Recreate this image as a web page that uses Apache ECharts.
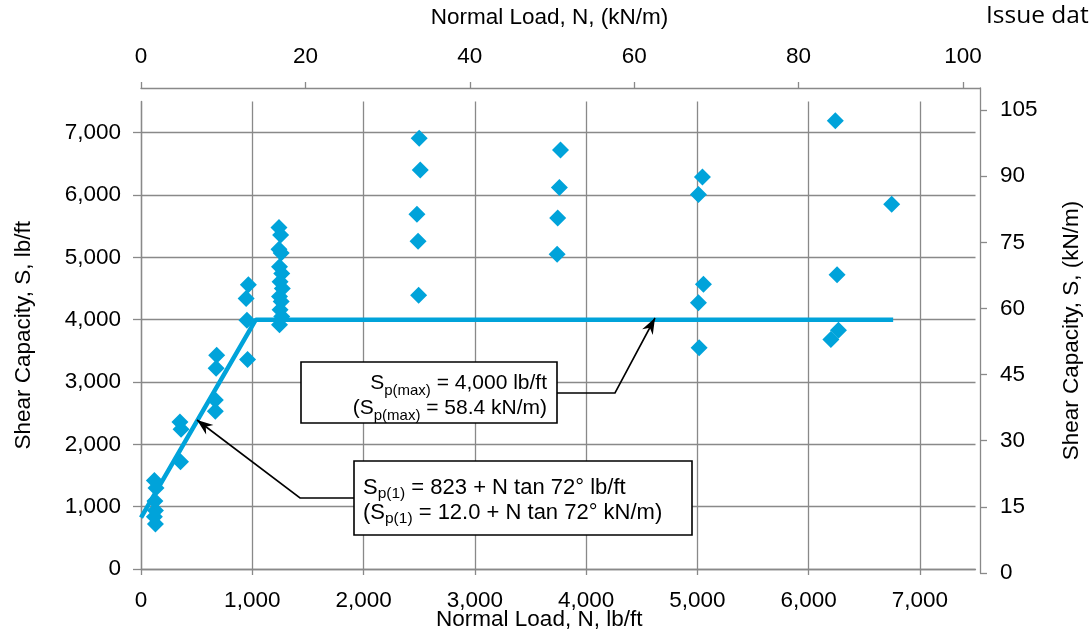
<!DOCTYPE html>
<html>
<head>
<meta charset="utf-8">
<script src="https://cdn.jsdelivr.net/npm/echarts@6/dist/echarts.min.js"></script>
<style>
  html, body { margin: 0; padding: 0; background: #fff; }
  #chart { width: 1092px; height: 634px; }
</style>
</head>
<body>
<div id="chart"></div>
<script>
// test points: normal load N (lb/ft) and shear capacity S (lb/ft)
var loadN = [
  120, 135, 125, 130, 120, 130,
  350, 360, 355,
  680, 675, 668, 668,
  965, 945, 952, 958,
  1240, 1255, 1240, 1260, 1245, 1265, 1250, 1270, 1245, 1260, 1250, 1265, 1245,
  2500, 2510, 2480, 2490, 2495,
  3770, 3760, 3745, 3740,
  5046, 5010, 5055, 5010, 5016,
  6240, 6256, 6268, 6200,
  6747
];
var shearS = [
  1420, 1300, 1090, 940, 840, 720,
  2360, 2240, 1720,
  3430, 3220, 2710, 2530,
  4560, 4340, 3990, 3360,
  5480, 5360, 5130, 5070, 4850, 4740, 4610, 4500, 4370, 4290, 4160, 4050, 3920,
  6910, 6400, 5690, 5260, 4390,
  6720, 6120, 5630, 5050,
  6290, 6010, 4570, 4270, 3550,
  7190, 4720, 3830, 3680,
  5850
];

// design line S = 823 + N tan 72deg, capped at 4,000 lb/ft
var lineN = [0, 1032, 6760];
var lineS = [823, 4000, 4000];

// tick labels
var bottomTicks = [0, 1000, 2000, 3000, 4000, 5000, 6000, 7000];
var leftTicks = [0, 1000, 2000, 3000, 4000, 5000, 6000, 7000];
var topTicks = [0, 20, 40, 60, 80, 100];
var rightTicks = [0, 15, 30, 45, 60, 75, 90, 105];

var FONT = 'Liberation Sans, Arial, sans-serif';
var GRAY = '#898989';
var BLUE = '#00a3da';

function withComma(v) {
  return Number(v).toLocaleString('en-US');
}

var myChart = echarts.init(document.getElementById('chart'));

var labelStyle = { fontFamily: FONT, fontSize: 22.5, color: '#000' };
var nameStyle = { fontFamily: FONT, fontSize: 22.5, color: '#000' };

// grid line colours, last one hides the line drawn at the axis max
var splitColors = [GRAY, GRAY, GRAY, GRAY, GRAY, GRAY, GRAY, GRAY, 'rgba(0,0,0,0)'];

// arrow head polygon for a leader line ending at tip
function arrowHead(from, tip) {
  var dx = tip[0] - from[0], dy = tip[1] - from[1];
  var len = Math.sqrt(dx * dx + dy * dy);
  var ux = dx / len, uy = dy / len;
  var nx = -uy, ny = ux;
  var bx = tip[0] - ux * 16, by = tip[1] - uy * 16;
  var cx = tip[0] - ux * 11, cy = tip[1] - uy * 11;
  return [tip, [bx + nx * 6, by + ny * 6], [cx, cy], [bx - nx * 6, by - ny * 6]];
}

var lead1 = [[557, 393], [615, 393], [655, 318]];
var lead2 = [[354, 498], [300, 498], [197, 420]];

var rich1 = {
  m: { fontFamily: FONT, fontSize: 21, lineHeight: 25, color: '#000', verticalAlign: 'top' },
  s: { fontFamily: FONT, fontSize: 15, lineHeight: 10, color: '#000', verticalAlign: 'bottom' }
};
var rich2 = {
  m: { fontFamily: FONT, fontSize: 22, lineHeight: 25, color: '#000', verticalAlign: 'top' },
  s: { fontFamily: FONT, fontSize: 15.5, lineHeight: 10, color: '#000', verticalAlign: 'bottom' }
};

var option = {
  animation: false,
  grid: [
    { left: 141, right: 116.5, top: 101.5, bottom: 65, outerBoundsMode: 'none', containLabel: false },
    { left: 141, right: 112, top: 88, bottom: 61, outerBoundsMode: 'none', containLabel: false }
  ],
  xAxis: [
    {
      gridIndex: 0,
      type: 'value',
      position: 'bottom',
      min: 0,
      max: 7500,
      interval: 1000,
      name: 'Normal Load, N, lb/ft',
      nameLocation: 'middle',
      nameGap: 39,
      nameMoveOverlap: false,
      nameTextStyle: Object.assign({ padding: [0, 38, 0, 0] }, nameStyle),
      axisLine: { show: true, onZero: false, lineStyle: { color: GRAY, width: 1.3 } },
      axisTick: { show: true, length: 6, customValues: bottomTicks, lineStyle: { color: GRAY, width: 1.3 } },
      axisLabel: Object.assign({ customValues: bottomTicks, margin: 20, formatter: withComma }, labelStyle),
      splitLine: { show: true, lineStyle: { color: splitColors, width: 1.3 } }
    },
    {
      gridIndex: 1,
      type: 'value',
      position: 'top',
      min: 0,
      max: 102.07,
      name: 'Normal Load, N, (kN/m)',
      nameLocation: 'middle',
      nameGap: 59,
      nameMoveOverlap: false,
      nameTextStyle: Object.assign({ padding: [0, 22, 0, 0] }, nameStyle),
      axisLine: { show: true, onZero: false, lineStyle: { color: GRAY, width: 1.3 } },
      axisTick: { show: true, length: 6, customValues: topTicks, lineStyle: { color: GRAY, width: 1.3 } },
      axisLabel: Object.assign({ customValues: topTicks, margin: 20 }, labelStyle),
      splitLine: { show: false }
    }
  ],
  yAxis: [
    {
      gridIndex: 0,
      type: 'value',
      position: 'left',
      min: 0,
      max: 7500,
      interval: 1000,
      name: 'Shear Capacity, S, lb/ft',
      nameLocation: 'middle',
      nameRotate: 90,
      nameGap: 106,
      nameMoveOverlap: false,
      nameTextStyle: nameStyle,
      axisLine: { show: true, onZero: false, lineStyle: { color: GRAY, width: 1.3 } },
      axisTick: { show: true, length: 8, customValues: leftTicks, lineStyle: { color: GRAY, width: 1.3 } },
      axisLabel: Object.assign({ customValues: leftTicks, margin: 20, formatter: withComma }, labelStyle),
      splitLine: { show: true, lineStyle: { color: splitColors, width: 1.3 } }
    },
    {
      gridIndex: 1,
      type: 'value',
      position: 'right',
      min: 0,
      max: 110,
      name: 'Shear Capacity, S, (kN/m)',
      nameLocation: 'middle',
      nameRotate: 90,
      nameGap: 80,
      nameMoveOverlap: false,
      nameTextStyle: nameStyle,
      axisLine: { show: true, onZero: false, lineStyle: { color: GRAY, width: 1.3 } },
      axisTick: { show: true, length: 7, customValues: rightTicks, lineStyle: { color: GRAY, width: 1.3 } },
      axisLabel: Object.assign({ customValues: rightTicks, margin: 20 }, labelStyle),
      splitLine: { show: false }
    }
  ],
  series: [
    {
      name: 'design line',
      type: 'line',
      xAxisIndex: 0,
      yAxisIndex: 0,
      symbol: 'none',
      lineStyle: { color: BLUE, width: 4.5 },
      z: 2,
      data: lineN.map(function (n, i) { return [n, lineS[i]]; })
    },
    {
      name: 'tests',
      type: 'scatter',
      xAxisIndex: 0,
      yAxisIndex: 0,
      symbol: 'diamond',
      symbolSize: 17,
      itemStyle: { color: BLUE, opacity: 1 },
      z: 3,
      data: loadN.map(function (n, i) { return [n, shearS[i]]; })
    },
    {
      type: 'scatter',
      xAxisIndex: 1,
      yAxisIndex: 1,
      data: []
    }
  ],
  graphic: [
    {
      type: 'text',
      left: 986,
      top: 4,
      style: { text: 'Issue dat', fontFamily: 'Open Sans, sans-serif', fontSize: 24.5, fill: '#000' }
    },
    {
      type: 'polyline', z: 10,
      shape: { points: lead1 },
      style: { stroke: '#000', lineWidth: 1.6, fill: null }
    },
    {
      type: 'polygon', z: 10,
      shape: { points: arrowHead(lead1[1], lead1[2]) },
      style: { fill: '#000' }
    },
    {
      type: 'polyline', z: 10,
      shape: { points: lead2 },
      style: { stroke: '#000', lineWidth: 1.6, fill: null }
    },
    {
      type: 'polygon', z: 10,
      shape: { points: arrowHead(lead2[1], lead2[2]) },
      style: { fill: '#000' }
    },
    {
      type: 'rect', z: 11,
      shape: { x: 301, y: 362, width: 256, height: 61 },
      style: { fill: '#fff', stroke: '#000', lineWidth: 1.6 }
    },
    {
      type: 'text', z: 12,
      x: 547, y: 373,
      style: {
        text: '{m|S}{s|p(max)}{m| = 4,000 lb/ft}\n{m|(S}{s|p(max)}{m| = 58.4 kN/m)}',
        align: 'right',
        verticalAlign: 'top',
        rich: rich1
      }
    },
    {
      type: 'rect', z: 11,
      shape: { x: 354, y: 461, width: 338, height: 74 },
      style: { fill: '#fff', stroke: '#000', lineWidth: 1.6 }
    },
    {
      type: 'text', z: 12,
      x: 363, y: 477,
      style: {
        text: '{m|S}{s|p(1)}{m| = 823 + N tan 72\u00b0 lb/ft}\n{m|(S}{s|p(1)}{m| = 12.0 + N tan 72\u00b0 kN/m)}',
        align: 'left',
        verticalAlign: 'top',
        rich: rich2
      }
    }
  ]
};

myChart.setOption(option);

window.addEventListener('resize', function () {
  myChart.resize();
});
</script>
</body>
</html>
